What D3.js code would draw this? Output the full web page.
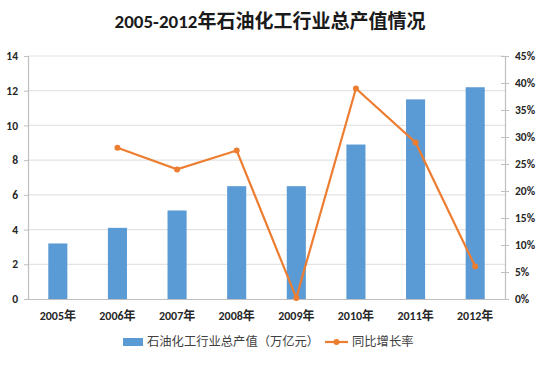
<!DOCTYPE html>
<html><head><meta charset="utf-8">
<script src="https://cdn.jsdelivr.net/npm/d3@7"></script>
<style>body{margin:0;background:#fff}svg{display:block}</style>
</head><body><svg id="c" width="546" height="369"></svg>
<script>
const years = ["2005年","2006年","2007年","2008年","2009年","2010年","2011年","2012年"];
const output = [3.2, 4.1, 5.1, 6.5, 6.5, 8.9, 11.5, 12.2];
const growth = [null, 0.28, 0.24, 0.275, 0.002, 0.39, 0.29, 0.06];
const leftTicks = [0,2,4,6,8,10,12,14];
const rightTicks = [0,0.05,0.1,0.15,0.2,0.25,0.3,0.35,0.4,0.45];
const title = "2005-2012年石油化工行业总产值情况";
const seriesNames = ["石油化工行业总产值（万亿元）","同比增长率"];

const svg = d3.select("#c");
const F = "Calibri, Carlito, 'Liberation Sans', 'Noto Sans CJK SC', sans-serif";
const L = 28, R = 505, T = 56, B = 299;
const x = d3.scaleBand().domain(years).range([L, R]).paddingInner(0.68).paddingOuter(0.34);
const y = d3.scaleLinear().domain([0,14]).range([B, T]);
const y2 = d3.scaleLinear().domain([0,0.45]).range([B, T]);

// gridlines
svg.append("g").selectAll("line").data(leftTicks.slice(1)).join("line")
  .attr("x1", L).attr("x2", R).attr("y1", d=>y(d)).attr("y2", d=>y(d))
  .attr("stroke", "#e3e3e3").attr("stroke-width", 1.2);

// axes
const ax = svg.append("g").attr("transform", `translate(${L},0)`)
  .call(d3.axisLeft(y).tickValues(leftTicks).tickSize(4).tickPadding(6));
const ax2 = svg.append("g").attr("transform", `translate(${R},0)`)
  .call(d3.axisRight(y2).tickValues(rightTicks).tickSize(4).tickPadding(6).tickFormat(d3.format(".0%")));
const axB = svg.append("g").attr("transform", `translate(0,${B})`)
  .call(d3.axisBottom(x).tickSize(0).tickPadding(12));
[ax, ax2, axB].forEach(g => {
  g.select(".domain").attr("stroke", "#bfbfbf").attr("stroke-width", 1.2);
  g.selectAll(".tick line").attr("stroke", "#bfbfbf");
  g.selectAll("text").attr("font-family", F).attr("font-size", 11.5).attr("font-weight", "bold").attr("fill", "#262626");
});
axB.selectAll("text").attr("font-size", 12);
ax2.selectAll(".tick line").attr("x1", -4);

// bars
svg.append("g").selectAll("rect").data(output).join("rect")
  .attr("x", (d,i)=>x(years[i])).attr("width", x.bandwidth())
  .attr("y", d=>y(d)).attr("height", d=>B - y(d))
  .attr("fill", "#5b9bd5");

// line
const pts = growth.map((g,i)=>({x: x(years[i]) + x.bandwidth()/2, v: g})).filter(p=>p.v!==null);
svg.append("path").datum(pts)
  .attr("d", d3.line().x(p=>p.x).y(p=>y2(p.v)))
  .attr("fill", "none").attr("stroke", "#ed7d31").attr("stroke-width", 2.2);
svg.append("g").selectAll("circle").data(pts).join("circle")
  .attr("cx", p=>p.x).attr("cy", p=>y2(p.v)).attr("r", 3).attr("fill", "#ed7d31");

// title
svg.append("text").attr("x", 270).attr("y", 28).attr("text-anchor", "middle")
  .attr("font-family", F).attr("font-size", 19).attr("font-weight", "bold").attr("fill", "#1a1a1a")
  .text(title);

// legend
const lg = svg.append("g");
lg.append("rect").attr("x", 123).attr("y", 338).attr("width", 20).attr("height", 8).attr("fill", "#5b9bd5");
lg.append("text").attr("x", 147).attr("y", 346).attr("font-family", F).attr("font-size", 12.3).attr("fill", "#404040").text(seriesNames[0]);
lg.append("line").attr("x1", 325).attr("x2", 348).attr("y1", 342).attr("y2", 342).attr("stroke", "#ed7d31").attr("stroke-width", 2.2);
lg.append("circle").attr("cx", 336.5).attr("cy", 342).attr("r", 3).attr("fill", "#ed7d31");
lg.append("text").attr("x", 352).attr("y", 346).attr("font-family", F).attr("font-size", 12.3).attr("fill", "#404040").text(seriesNames[1]);
</script></body></html>
